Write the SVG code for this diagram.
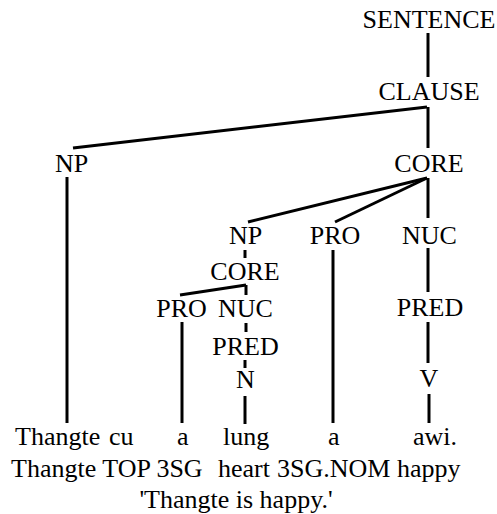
<svg xmlns="http://www.w3.org/2000/svg" width="497" height="514" viewBox="0 0 497 514">
  <style>
    text { font-family: "Liberation Serif", "Times New Roman", serif; font-size: 26px; fill: #000; }
    .c { text-anchor: middle; }
    line { stroke: #000; stroke-width: 3; stroke-linecap: butt; }
  </style>
  <rect width="497" height="514" fill="#fff"/>

  <g id="connectors">
    <line x1="428" y1="33" x2="428" y2="77"/>
    <line x1="427" y1="107" x2="73" y2="148"/>
    <line x1="428" y1="107" x2="428" y2="148"/>
    <line x1="67" y1="177" x2="67" y2="423"/>
    <line x1="427" y1="178" x2="248" y2="222"/>
    <line x1="427" y1="178" x2="335" y2="222"/>
    <line x1="428" y1="178" x2="428" y2="218"/>
    <line x1="245" y1="250" x2="245" y2="258"/>
    <line x1="246" y1="285" x2="180" y2="295"/>
    <line x1="246" y1="285" x2="246" y2="295"/>
    <line x1="182" y1="322" x2="182" y2="423"/>
    <line x1="246" y1="323" x2="246" y2="332"/>
    <line x1="245" y1="360" x2="245" y2="368"/>
    <line x1="245" y1="396" x2="245" y2="424"/>
    <line x1="333" y1="250" x2="333" y2="423"/>
    <line x1="428" y1="248" x2="428" y2="292"/>
    <line x1="428" y1="322" x2="428" y2="363"/>
    <line x1="429" y1="394" x2="429" y2="423"/>
  </g>

  <g id="sentence"><text class="c" x="429" y="28">SENTENCE</text></g>
  <g id="clause"><text class="c" x="429" y="100">CLAUSE</text></g>
  <g id="np-topic"><text class="c" x="71.5" y="172">NP</text></g>
  <g id="core"><text class="c" x="429" y="172">CORE</text></g>
  <g id="np-inner"><text class="c" x="245.5" y="244">NP</text></g>
  <g id="pro"><text class="c" x="335" y="244">PRO</text></g>
  <g id="nuc"><text class="c" x="429.5" y="244">NUC</text></g>
  <g id="core-inner"><text class="c" x="245" y="280">CORE</text></g>
  <g id="pro-inner"><text class="c" x="181.5" y="317">PRO</text></g>
  <g id="nuc-inner"><text class="c" x="245.5" y="317">NUC</text></g>
  <g id="pred-inner"><text class="c" x="245.5" y="355">PRED</text></g>
  <g id="n"><text class="c" x="245.5" y="388">N</text></g>
  <g id="pred"><text class="c" x="430" y="316">PRED</text></g>
  <g id="v"><text class="c" x="429" y="387">V</text></g>

  <g id="words">
    <text x="15" y="445">Thangte</text>
    <text x="109" y="445">cu</text>
    <text x="177" y="445">a</text>
    <text x="223" y="445">lung</text>
    <text x="328" y="445">a</text>
    <text x="413" y="445">awi.</text>
  </g>
  <g id="gloss">
    <text x="11" y="477">Thangte TOP 3SG</text>
    <text x="218" y="477">heart</text>
    <text x="277" y="477">3SG.NOM happy</text>
  </g>
  <g id="translation"><text class="c" x="236" y="508">'Thangte is happy.'</text></g>
</svg>
